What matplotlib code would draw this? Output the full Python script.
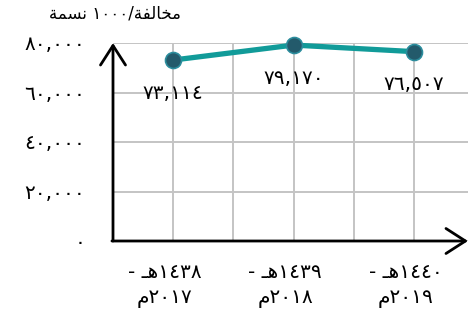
import matplotlib
matplotlib.use("Agg")
import matplotlib.pyplot as plt

plt.rcParams['font.family'] = ['DejaVu Sans']

# Data (Arabic-Indic digits; Arabic letters given in visual order with presentation forms,
# because matplotlib does not shape right-to-left text)
hijri_years = ["\u0661\u0664\u0663\u0668", "\u0661\u0664\u0663\u0669", "\u0661\u0664\u0664\u0660"]
greg_years = ["\u0662\u0660\u0661\u0667", "\u0662\u0660\u0661\u0668", "\u0662\u0660\u0661\u0669"]
values = [73114, 79170, 76507]
y_ticks = [0, 20000, 40000, 60000, 80000]
y_title = "\uFE94\uFEE4\uFEB4\uFEE7 \u0661\u0660\u0660\u0660/\uFE94\uFED4\uFEDF\uFE8E\uFEA8\uFEE3"
HEH = "\u0640\uFEEB"    # هـ
MEEM = "\uFEE1"         # م

AR = str.maketrans("0123456789", "\u0660\u0661\u0662\u0663\u0664\u0665\u0666\u0667\u0668\u0669")


def ar(n):
    return f"{n:,}".translate(AR)


cat_labels = [f"- {HEH}{h}\n{MEEM}{g}" for h, g in zip(hijri_years, greg_years)]

W, H = 471, 323
fig = plt.figure(figsize=(W / 100, H / 100), dpi=100)
ax = fig.add_axes([113 / W, 1 - 241 / H, (468 - 113) / W, (241 - 43) / H])

x = list(range(len(values)))
ax.plot(x, values, color="#119B99", lw=3.8, marker="o", ms=11.5,
        mfc="#235A6B", mec="#2C8D9D", mew=1.2, zorder=3, clip_on=False)

ax.set_xlim(-0.5, 2.45)
ax.set_ylim(0, 80000)
ax.set_yticks(y_ticks)
ax.set_yticklabels([ar(v) for v in y_ticks])
ax.set_xticks(x)
ax.set_xticks([0.5, 1.5], minor=True)
ax.set_xticklabels([])

for xi, lab in zip(x, cat_labels):
    ax.annotate(lab, xy=(xi, 0), xycoords=("data", "axes fraction"),
                xytext=(-6, -32), textcoords="offset points",
                ha="center", va="center", multialignment="center",
                linespacing=1.35, fontsize=14.5, annotation_clip=False)

ax.grid(True, which="both", axis="x", color="#C4C4C4", lw=1.4)
ax.grid(True, which="major", axis="y", color="#C4C4C4", lw=1.4)
ax.set_axisbelow(True)
ax.tick_params(axis="both", which="both", length=0)
ax.tick_params(axis="y", pad=20, labelsize=14.5)
for s in ax.spines.values():
    s.set_visible(False)

arrow = dict(arrowstyle="->,head_length=0.7,head_width=0.45", lw=2.0, color="black",
             shrinkA=0, shrinkB=0, mutation_scale=20)
ax.annotate("", xy=(0, 1), xytext=(0, 0), xycoords="axes fraction", arrowprops=arrow,
            annotation_clip=False)
ax.annotate("", xy=(1.0, 0), xytext=(-0.003, 0), xycoords="axes fraction", arrowprops=arrow,
            annotation_clip=False)

for xi, v in zip(x, values):
    ax.annotate(ar(v), xy=(xi, v), xytext=(0, -24), textcoords="offset points",
                ha="center", va="center", fontsize=14.5)

fig.text(115 / W, 1 - 14 / H, y_title, ha="center", va="center", fontsize=12)

fig.savefig("out.png", dpi=100)
